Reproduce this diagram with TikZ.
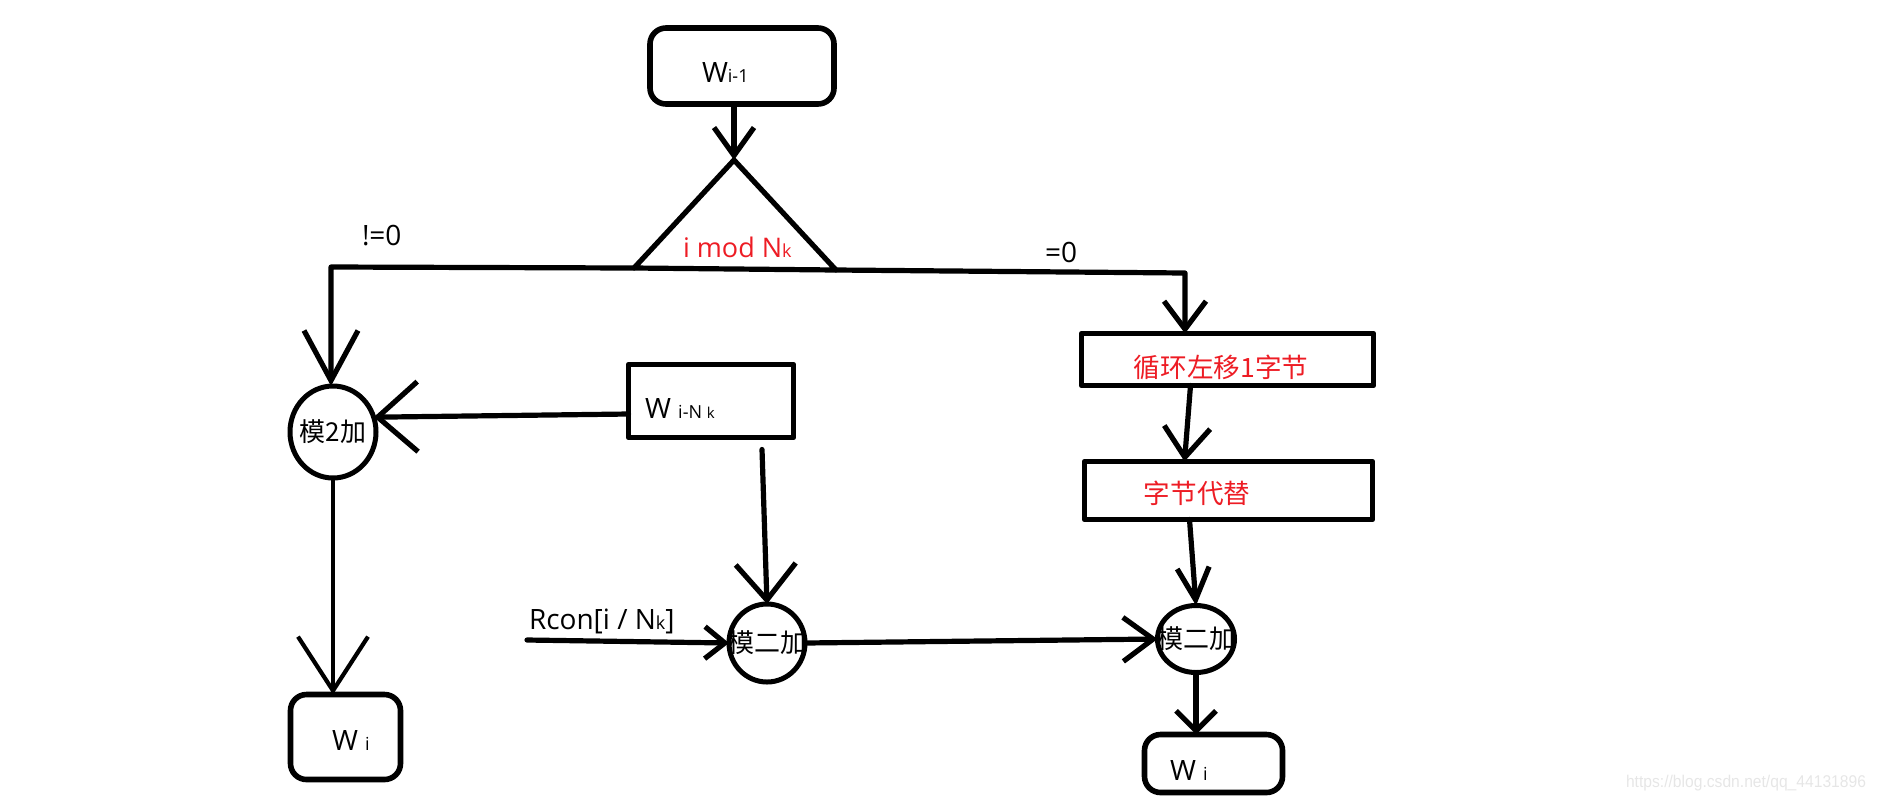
\documentclass[tikz,border=0pt]{standalone}
\usepackage{fontspec}
\setmainfont{Open Sans}
\newfontfamily\cjkf{Noto Sans CJK SC}
\newfontfamily\wmfont{Liberation Sans}
\usetikzlibrary{arrows.meta,calc,shapes.geometric}
\definecolor{pred}{RGB}{237,28,36}
\definecolor{wmgray}{RGB}{230,230,230}
\newcommand\subsz{\fontsize{9}{10}\selectfont}
\newcommand\tinysz{\fontsize{7.5}{8}\selectfont}
\begin{document}
\begin{tikzpicture}[x=0.5pt,y=-0.5pt,line width=2.6pt,line cap=round,line join=round,
  every node/.style={inner sep=0pt,outer sep=0pt},
  rbox/.style={draw,rounded corners=8pt,line width=2.8pt},
  sbox/.style={draw,line width=2.8pt},
  addc/.style={draw,ellipse,line width=2.5pt,font=\cjkf\fontsize{13}{14}\selectfont},
  lbl/.style={font=\fontsize{14}{16}\selectfont},
  redlat/.style={text=pred,font=\fontsize{13.5}{15}\selectfont},
  redtxt/.style={text=pred,font=\cjkf\fontsize{13.3}{15}\selectfont},
  vtip/.style 2 args={-{Straight Barb[length=#1pt,width=#2pt]}}]
\useasboundingbox (0,0) rectangle (1877,799);

% top box
\node[rbox,minimum width=92pt,minimum height=38pt] (top) at (742,66) {};
\node[lbl,anchor=base west] (toptxt) at (702,82) {W{\subsz i-1}};

% triangle and split line
\coordinate (apex) at (734,160);
\coordinate (bl) at (634,268);
\coordinate (br) at (836,270);
\coordinate (lcorner) at (331,267);
\coordinate (rcorner) at (1185,273);
\draw (bl) -- (apex) -- (br) -- cycle;
\node[redlat,anchor=base west] (modtxt) at (683,257) {i mod N{\subsz k}};
\node[lbl,anchor=base west] (ne) at (362,245) {!=0};
\node[lbl,anchor=base west] (eq) at (1045,262) {=0};

% left column
\node[addc,minimum width=43pt,minimum height=46pt] (m2) at (333,432) {\makebox[0pt]{模2加}};
\node[sbox,minimum width=82.5pt,minimum height=36.5pt] (wnk) at (711,401) {};
\node[lbl,anchor=base west] (wnktxt) at (645,418) {W {\subsz i-N {\tinysz k}}};
\node[rbox,minimum width=55pt,minimum height=42.5pt] (wil) at (345.5,737) {};
\node[lbl,anchor=base west] (wiltxt) at (332,750) {W {\subsz i}};

% middle
\node[addc,minimum width=38pt,minimum height=39pt] (mid2) at (767,643) {\makebox[0pt]{模二加}};
\coordinate (rcon) at (527,640);
\node[lbl,anchor=base west] (rcontxt) at (529,629) {Rcon[i / N{\subsz k}]};

% right column
\node[sbox,minimum width=146pt,minimum height=26pt] (shift) at (1227.5,359.5) {};
\node[redtxt] (shifttxt) at (1221,367) {循环左移1字节};
\node[sbox,minimum width=144pt,minimum height=29pt] (sub) at (1228.5,490.5) {};
\node[redtxt] (subtxt) at (1197,493) {字节代替};
\node[addc,minimum width=38.5pt,minimum height=33.5pt] (mod3) at (1196,639) {\makebox[0pt]{模二加}};
\node[rbox,minimum width=69pt,minimum height=29pt] (wir) at (1213.5,763.5) {};
\node[lbl,anchor=base west] (wirtxt) at (1170,780) {W {\subsz i}};

% watermark
\node[font=\wmfont\fontsize{8.5}{9}\selectfont,text=wmgray,anchor=base east,xscale=0.92] (wm) at (1866,787) {https://blog.csdn.net/qq\_44131896};

% connectors
\draw[vtip={14}{20}] (top.south -| apex) -- (apex);
\draw[vtip={25}{27}] (bl) -- (lcorner) -- (lcorner |- m2.north);
\draw[vtip={14}{21}] (br) -- (rcorner) -- (rcorner |- shift.north);
\draw[vtip={20}{35}] ($(wnk.west)+(0,13)$) -- (m2.20);
\draw[vtip={27}{35},line width=2.1pt] (m2.south) -- (m2.south |- wil.north);
\draw[vtip={18}{30}] ($(wnk.south)+(51,12)$) -- (mid2.north);
\draw[vtip={10}{16}] (rcon) -- (mid2.west);
\draw[vtip={15}{22}] (mid2.east) -- (mod3.west);
\draw[vtip={15}{23}] ($(shift.south)+(-37,0)$) -- ($(sub.north)+(-44,0)$);
\draw[vtip={16}{16}] ($(sub.south)+(-39,0)$) -- (mod3.north);
\draw[vtip={10}{20}] (mod3.south) -- (mod3.south |- wir.north);
\end{tikzpicture}
\end{document}
